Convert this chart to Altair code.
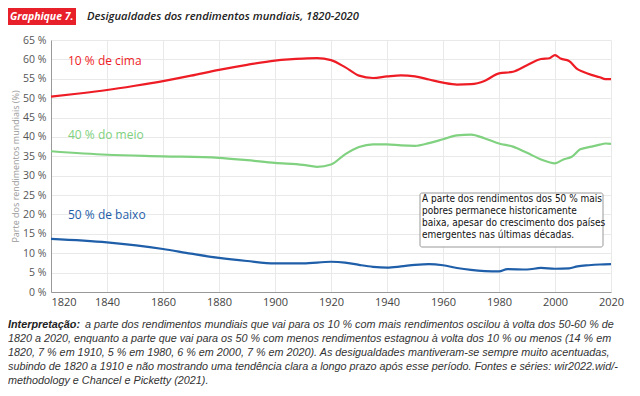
import altair as alt
import pandas as pd

# ---- data ----
top_years = [1820, 1830, 1840, 1850, 1860, 1870, 1880, 1890, 1900, 1905, 1910, 1915, 1920, 1925,
             1930, 1935, 1940, 1945, 1950, 1955, 1960, 1965, 1970, 1975, 1980, 1985, 1990, 1995,
             1998, 2000, 2002, 2005, 2008, 2010, 2013, 2016, 2018, 2020]
top_vals = [50.4, 51.2, 52.1, 53.2, 54.4, 55.8, 57.3, 58.6, 59.7, 60.0, 60.2, 60.3, 59.8, 58.0,
            55.8, 55.2, 55.6, 55.9, 55.6, 54.8, 54.0, 53.5, 53.6, 54.5, 56.4, 56.8, 58.5, 60.1,
            60.3, 61.1, 60.2, 59.6, 57.5, 56.8, 56.0, 55.4, 54.9, 54.9]

mid_years = [1820, 1840, 1860, 1880, 1890, 1900, 1910, 1915, 1920, 1925, 1930, 1935, 1940, 1945,
             1950, 1955, 1960, 1965, 1970, 1975, 1980, 1985, 1990, 1995, 2000, 2003, 2006, 2009,
             2013, 2016, 2018, 2020]
mid_vals = [36.3, 35.4, 35.0, 34.6, 34.0, 33.3, 32.8, 32.3, 32.9, 35.5, 37.4, 38.1, 38.1, 37.8,
            37.7, 38.4, 39.4, 40.4, 40.6, 39.6, 38.3, 37.5, 35.9, 34.2, 33.2, 34.2, 34.9, 36.8,
            37.5, 38.0, 38.3, 38.2]

bot_years = [1820, 1840, 1860, 1870, 1880, 1890, 1900, 1910, 1920, 1925, 1930, 1935, 1940, 1945,
             1950, 1955, 1960, 1965, 1970, 1975, 1980, 1983, 1990, 1995, 2000, 2005, 2008, 2012,
             2016, 2020]
bot_vals = [13.7, 12.8, 11.1, 9.9, 8.8, 8.0, 7.4, 7.4, 7.8, 7.6, 7.0, 6.5, 6.3, 6.6,
            7.0, 7.2, 6.9, 6.2, 5.7, 5.4, 5.3, 5.9, 5.8, 6.2, 6.0, 6.1, 6.6, 6.9,
            7.1, 7.2]

series_names = ["10 % de cima", "40 % do meio", "50 % de baixo"]
series_colors = ["#ee1c25", "#80d180", "#1f5ea8"]

title_tag = "Graphique 7."
title_text = "Desigualdades dos rendimentos mundiais, 1820-2020"
y_title = "Parte dos rendimentos mundiais (%)"
note_lines = ["A parte dos rendimentos dos 50 % mais",
              "pobres permanece historicamente",
              "baixa, apesar do crescimento dos países",
              "emergentes nas últimas décadas."]
interp_bold = "Interpretação:"
interp_lines = [
    "a parte dos rendimentos mundiais que vai para os 10 % com mais rendimentos oscilou à volta dos 50-60 % de",
    "1820 a 2020, enquanto a parte que vai para os 50 % com menos rendimentos estagnou à volta dos 10 % ou menos (14 % em",
    "1820, 7 % em 1910, 5 % em 1980, 6 % em 2000, 7 % em 2020). As desigualdades mantiveram-se sempre muito acentuadas,",
    "subindo de 1820 a 1910 e não mostrando uma tendência clara a longo prazo após esse período. Fontes e séries: wir2022.wid/-",
    "methodology e Chancel e Picketty (2021).",
]

rows = []
for name, ys, vs in zip(series_names, [top_years, mid_years, bot_years], [top_vals, mid_vals, bot_vals]):
    for y, v in zip(ys, vs):
        rows.append({"serie": name, "ano": y, "valor": v})
df = pd.DataFrame(rows)

W, H = 560, 252
FONT = "Open Sans"

xscale = alt.Scale(domain=[1820, 2020], nice=False, zero=False)
yscale = alt.Scale(domain=[0, 65], nice=False)

lines = alt.Chart(df).mark_line(strokeWidth=2.2, interpolate="monotone").encode(
    x=alt.X("ano:Q", scale=xscale,
            axis=alt.Axis(title=None, values=list(range(1820, 2021, 20)), format="d",
                          labelFont=FONT, labelFontSize=11, labelColor="#444",
                          ticks=False, labelPadding=4, domainColor="#999",
                          gridColor="#e9e9e9", labelFlush=False,
                          labelAlign={"expr": "datum.value == 1820 ? 'left' : 'center'"})),
    y=alt.Y("valor:Q", scale=yscale,
            axis=alt.Axis(title=y_title, values=list(range(0, 66, 5)),
                          labelExpr="datum.value + ' %'",
                          labelFont=FONT, labelFontSize=10.5, labelColor="#555",
                          ticks=False, labelPadding=5, domainColor="#999",
                          gridColor="#e9e9e9",
                          titleFont=FONT, titleFontSize=9, titleColor="#999",
                          titleFontWeight="normal", titlePadding=2)),
    color=alt.Color("serie:N", scale=alt.Scale(domain=series_names, range=series_colors), legend=None),
)

lab_df = pd.DataFrame({"serie": series_names, "py": [61 - 40, 135 - 40, 215 - 40]})
labels = alt.Chart(lab_df).mark_text(align="left", baseline="middle", font=FONT, fontSize=12).encode(
    x=alt.value(68 - 51),
    y=alt.Y("py:Q", scale=None),
    text="serie:N",
    color=alt.Color("serie:N", scale=alt.Scale(domain=series_names, range=series_colors), legend=None),
)

# annotation box
box = alt.Chart(pd.DataFrame({"a": [0]})).mark_rect(
    fill="white", stroke="#999", strokeWidth=1, cornerRadius=2
).encode(x=alt.value(420 - 51), x2=alt.value(603 - 51), y=alt.value(193 - 40), y2=alt.value(247 - 40))

note_df = pd.DataFrame({"t": note_lines, "py": [199 - 40 + i * 12 for i in range(4)]})
note = alt.Chart(note_df).mark_text(align="left", baseline="middle", font="DejaVu Sans Condensed",
                                    fontSize=10, color="#111").encode(
    x=alt.value(422 - 51), y=alt.Y("py:Q", scale=None), text="t:N")

# title
tag_rect = alt.Chart(pd.DataFrame({"a": [0]})).mark_rect(fill="#e8202a").encode(
    x=alt.value(8 - 51), x2=alt.value(76 - 51), y=alt.value(8 - 40), y2=alt.value(25 - 40))
tag_text = alt.Chart(pd.DataFrame({"t": [title_tag]})).mark_text(
    align="left", baseline="middle", font=FONT, fontSize=10.5, fontStyle="italic",
    fontWeight="bold", color="white").encode(x=alt.value(10 - 51), y=alt.value(16.5 - 40), text="t:N")
title = alt.Chart(pd.DataFrame({"t": [title_text]})).mark_text(
    align="left", baseline="middle", font=FONT, fontSize=11.2, fontStyle="italic",
    fontWeight=600, color="#222").encode(x=alt.value(87 - 51), y=alt.value(16.5 - 40), text="t:N")

# bottom paragraph
FS = 10.8
int_bold = alt.Chart(pd.DataFrame({"t": [interp_bold]})).mark_text(
    align="left", baseline="middle", font="Liberation Sans", fontSize=FS, fontStyle="italic",
    fontWeight="bold", color="#222").encode(x=alt.value(8 - 51), y=alt.value(325 - 40), text="t:N")
int_df = pd.DataFrame({"t": interp_lines,
                       "px": [85 - 51] + [8 - 51] * 4,
                       "py": [325 - 40 + i * 14 for i in range(5)]})
int_text = alt.Chart(int_df).mark_text(
    align="left", baseline="middle", font="Liberation Sans", fontSize=FS, fontStyle="italic",
    color="#333").encode(x=alt.X("px:Q", scale=None), y=alt.Y("py:Q", scale=None), text="t:N")

chart = alt.layer(lines, labels, box, note, tag_rect, tag_text, title, int_bold, int_text).properties(
    width=W, height=H,
    autosize=alt.AutoSizeParams(type="none"),
    padding={"left": 43, "top": 32, "right": 17, "bottom": 96},
    background="white",
).configure_view(stroke=None)

chart.save("out.html", embed_options={"renderer": "svg", "actions": False})
